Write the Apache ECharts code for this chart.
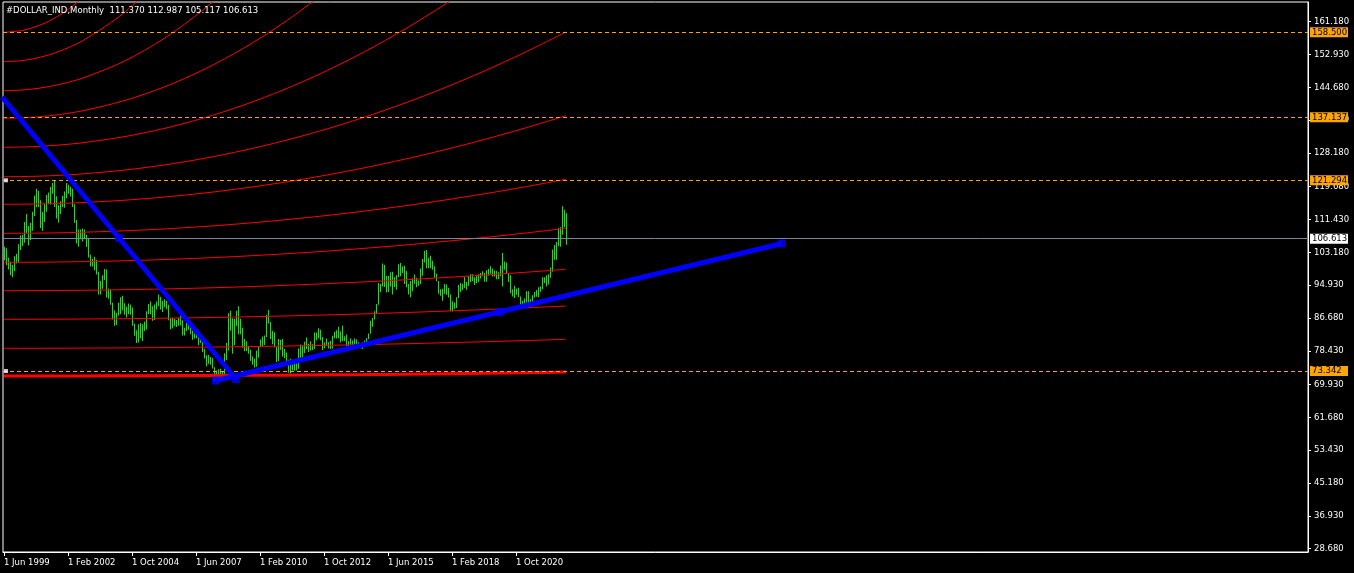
<!DOCTYPE html>
<html><head><meta charset="utf-8">
<script src="https://cdn.jsdelivr.net/npm/echarts@6.0.0/dist/echarts.min.js"></script>
<style>html,body{margin:0;padding:0;background:#000;overflow:hidden}#chart{width:1354px;height:573px}</style>
</head><body><div id="chart"></div>
<script>
// ---------- data ----------
const symbolName = '#DOLLAR_IND,Monthly';
const firstBar = 'Jun 1999';
const lastOpen = 111.370;
const lastClose = 106.613;

const highs = [
  104.6,104.2,101.8,100.8,100.0,102.2,102.8,
  105.2,107.4,107.6,110.8,112.8,109.8,110.6,113.4,117.5,119.2,118.6,116.3,
  113.4,115.4,117.6,118.2,119.6,120.6,121.1,117.3,115.0,116.0,117.4,118.5,
  120.6,120.2,119.7,119.2,115.3,111.3,108.9,108.9,109.2,108.9,107.6,106.8,
  102.6,101.6,102.1,101.3,98.3,96.0,97.4,99.0,98.9,94.1,93.9,90.5,
  88.6,88.0,90.5,91.9,92.3,90.4,89.5,90.3,90.0,89.3,85.2,83.6,
  85.1,85.4,85.1,85.8,88.4,90.2,90.8,89.6,90.1,90.8,92.6,92.0,
  91.0,91.4,91.0,90.0,86.6,86.8,86.5,86.2,86.8,87.5,86.1,84.2,
  85.4,85.2,84.4,83.4,82.8,83.2,82.0,82.4,81.2,78.9,77.3,77.4,
  76.9,76.7,74.3,73.5,73.8,73.9,73.1,77.8,80.4,87.9,88.5,86.6,
  86.5,88.5,89.6,86.5,84.2,81.4,80.8,79.7,78.7,77.0,76.4,78.5,
  79.5,81.3,82.0,82.3,87.5,88.7,85.7,83.5,83.1,79.5,81.4,81.2,
  81.4,78.9,78.0,76.2,76.4,76.0,75.8,75.3,79.0,80.0,79.8,80.7,
  81.8,80.2,80.8,80.1,83.0,83.0,84.1,83.7,81.9,80.5,81.5,80.6,
  80.9,82.2,83.2,83.6,84.5,83.3,84.8,82.1,82.5,80.8,81.5,81.0,
  81.5,81.3,80.6,80.4,80.6,81.0,81.6,82.8,86.0,86.7,88.4,90.2,
  95.5,95.2,100.4,100.0,97.3,97.3,98.2,98.3,96.9,97.4,100.2,100.5,
  99.6,99.8,98.5,95.2,96.0,96.7,97.6,96.8,96.1,99.1,101.5,103.6,
  103.8,101.8,102.3,101.1,99.7,97.8,96.0,93.9,94.0,95.2,95.1,94.2,
  92.6,90.9,90.6,91.9,95.0,95.5,95.3,96.9,95.7,97.2,97.7,97.7,
  96.9,97.4,97.7,98.0,98.4,98.0,98.7,99.0,99.7,99.1,98.6,98.5,
  98.2,99.9,103.0,100.9,100.6,97.9,97.4,93.9,94.8,94.1,94.3,92.1,
  91.0,91.6,93.4,93.4,91.4,92.4,93.2,93.7,94.4,94.6,96.9,96.9,
  97.4,97.7,99.4,103.9,105.0,105.8,109.3,109.5,114.8,113.9,112.987
];
const lows = [
  101.2,100.0,98.9,97.4,96.9,98.4,100.4,
  100.6,103.8,104.8,105.6,108.0,104.9,106.2,108.6,112.3,114.5,114.6,109.3,
  108.6,110.8,113.4,115.4,115.2,117.9,114.6,111.7,110.6,112.8,114.6,114.4,
  116.8,117.9,117.2,114.6,110.6,105.4,104.6,106.5,105.9,106.6,104.5,101.9,
  99.6,99.6,98.7,97.6,92.6,92.6,94.0,96.2,91.8,91.5,90.0,86.3,
  84.7,84.9,87.3,87.6,88.6,87.5,86.8,87.6,87.5,84.7,82.2,80.4,
  80.5,81.6,80.9,83.4,83.8,87.7,87.6,86.0,86.2,88.8,89.7,88.8,
  88.2,89.4,88.9,86.1,83.8,84.1,84.6,84.4,84.7,84.8,82.3,82.3,
  83.4,83.7,82.6,81.2,81.5,81.6,79.8,80.4,78.1,76.5,74.5,75.2,
  74.9,74.0,70.7,71.3,71.9,72.1,71.3,72.3,76.1,78.5,83.5,77.7,
  79.8,84.6,82.6,82.6,79.2,78.3,78.4,77.7,75.9,74.9,74.2,74.4,
  76.7,79.3,79.4,79.9,81.9,85.3,81.4,80.1,79.3,75.6,75.8,78.7,
  77.0,76.6,75.3,72.9,72.7,73.5,73.4,73.5,73.9,75.9,75.9,77.9,
  78.9,78.1,78.5,78.6,78.9,81.1,81.6,81.1,78.6,79.1,79.7,79.0,
  78.9,79.0,81.6,81.5,81.6,80.5,80.9,80.9,79.6,79.0,80.0,79.7,
  79.9,79.9,79.2,79.1,78.9,80.0,79.7,81.4,82.7,84.5,86.3,87.6,
  90.0,93.2,94.6,94.5,93.1,93.2,94.6,92.6,94.5,93.8,97.0,97.2,
  97.9,95.2,94.4,92.6,91.9,93.4,95.3,94.4,94.8,95.2,97.3,100.6,
  99.2,99.2,99.2,98.8,96.8,95.9,92.8,92.3,91.0,92.8,92.5,91.8,
  88.4,88.3,89.0,89.2,91.7,93.2,93.7,94.2,93.8,94.8,95.7,95.9,
  95.0,95.4,95.7,96.6,97.2,95.8,95.8,97.3,97.8,97.1,97.1,96.4,
  96.4,97.2,94.6,98.8,97.9,95.7,92.9,92.1,91.7,92.5,91.9,89.7,
  89.2,89.7,90.6,90.4,89.5,89.5,91.8,92.0,91.9,93.3,93.9,95.5,
  94.6,95.1,96.8,98.3,101.3,101.3,104.7,104.6,107.6,109.5,105.117
];

// indicator curves: values read at these bar indices (months since first bar)
const levelMonths = [0,10,20,30,40,60,80,100,120,140,160,180,200,220,240,260,281];
const level0  = [72.10,72.10,72.10,72.11,72.12,72.14,72.17,72.21,72.26,72.31,72.38,72.45,72.55,72.66,72.78,72.92,73.10];
const level1  = [79.06,79.06,79.07,79.09,79.11,79.16,79.24,79.35,79.47,79.62,79.79,79.99,80.20,80.45,80.71,80.99,81.32];
const level2  = [86.35,86.35,86.37,86.39,86.42,86.50,86.62,86.77,86.96,87.18,87.43,87.72,88.04,88.40,88.79,89.21,89.69];
const level3  = [93.54,93.55,93.57,93.60,93.65,93.79,93.98,94.22,94.52,94.88,95.28,95.75,96.27,96.84,97.46,98.15,98.92];
const level4  = [100.68,100.69,100.72,100.78,100.85,101.07,101.37,101.76,102.24,102.80,103.45,104.19,105.01,105.92,106.92,108.00,109.23];
const level5  = [107.97,107.99,108.04,108.12,108.25,108.59,109.07,109.69,110.45,111.35,112.38,113.55,114.86,116.31,117.89,119.61,121.57];
const level6  = [115.27,115.30,115.38,115.52,115.72,116.29,117.08,118.09,119.34,120.81,122.50,124.42,126.57,128.94,131.54,134.36,137.57];
const level7  = [122.20,122.25,122.38,122.61,122.94,123.86,125.15,126.81,128.84,131.24,134.00,137.14,140.64,144.51,148.75,153.36,158.60];
const level8  = [129.60,129.67,129.90,130.27,130.78,132.26,134.33,136.99,140.25,144.10,148.53,153.56,159.18,165.40,172.20,null,null];
const level9  = [136.89,137.01,137.38,138.00,138.86,141.31,144.75,149.17,154.58,160.97,168.34,null,null,null,null,null,null];
const level10 = [143.83,144.04,144.65,145.68,147.11,151.22,156.96,164.35,173.37,null,null,null,null,null,null,null,null];
const level11 = [151.12,151.46,152.49,154.20,156.59,163.43,173.00,null,null,null,null,null,null,null,null,null,null];
const level12 = [158.51,159.07,160.74,163.53,167.43,null,null,null,null,null,null,null,null,null,null,null,null];
const levels = [level0,level1,level2,level3,level4,level5,level6,level7,level8,level9,level10,level11,level12];

// horizontal price levels (dashed) and their markers
const priceLevels = [158.5, 137.137, 121.294, 73.342];
const markedLevels = [121.294, 73.342];

// trend lines [barIndex, price]
const trendA = [[-1, 142.25], [116, 71.34]];
const trendB = [[106, 70.96], [389, 105.41]];

// axis labels
const xTickLabels = ['1 Jun 1999','1 Feb 2002','1 Oct 2004','1 Jun 2007','1 Feb 2010','1 Oct 2012','1 Jun 2015','1 Feb 2018','1 Oct 2020'];
const yTickLabels = [28.68,36.93,45.18,53.43,61.68,69.93,78.43,86.68,94.93,103.18,111.43,119.68,128.18,136.43,144.68,152.93,161.18];

// ---------- build ----------
const MONTHS = ['Jan','Feb','Mar','Apr','May','Jun','Jul','Aug','Sep','Oct','Nov','Dec'];
const [fm, fy] = firstBar.split(' ');
function barIndex(label) {
  const p = label.split(' ');
  return (Number(p[2]) - Number(fy)) * 12 + MONTHS.indexOf(p[1]) - MONTHS.indexOf(fm);
}
const xTickIdx = xTickLabels.map(barIndex);
const xLabelMap = {};
xTickLabels.forEach((l, i) => { xLabelMap[xTickIdx[i]] = l; });

const FONT = 'DejaVu Sans';
const FS = 8.5;
const barData = highs.map((h, i) => [i, h, lows[i]]);
const lastIdx = highs.length - 1;
const titleText = symbolName + '  ' + [lastOpen, highs[lastIdx], lows[lastIdx], lastClose].map(v => v.toFixed(3)).join(' ');

const levelSeries = levels.map((arr, k) => ({
  type: 'line',
  data: levelMonths.map((m, i) => [m, arr[i]]).filter(p => p[1] !== null),
  smooth: 0.3,
  symbol: 'none',
  silent: true,
  clip: true,
  lineStyle: { color: '#ff0000', width: k === 0 ? 3 : 1 },
  z: 3
}));

function mid(t) { return [(t[0][0] + t[1][0]) / 2, (t[0][1] + t[1][1]) / 2]; }

function boxLabel(text, bg) {
  return {
    show: true, position: 'end', formatter: text, distance: 2,
    color: '#000', backgroundColor: bg, fontFamily: FONT, fontSize: FS,
    lineHeight: 10, padding: [0, 2, 0, 2], width: 34, align: 'left'
  };
}

const markData = priceLevels.map(v => ({
  yAxis: v,
  lineStyle: { color: '#ffa500', type: [4, 3], width: 1 },
  label: boxLabel(v.toFixed(3), '#ffa500')
}));
markData.push({
  yAxis: lastClose,
  lineStyle: { color: '#778899', type: 'solid', width: 1 },
  label: boxLabel(lastClose.toFixed(3), '#ffffff')
});

const chart = echarts.init(document.getElementById('chart'), null, { renderer: 'canvas' });
chart.setOption({
  animation: false,
  backgroundColor: '#000',
  title: {
    text: titleText, left: 6, top: 5, padding: 0,
    textStyle: { color: '#fff', fontSize: FS, fontWeight: 'normal', fontFamily: FONT, lineHeight: 12 }
  },
  grid: {
    left: 3, right: 46, top: 2, bottom: 21,
    show: true, borderColor: '#fff', borderWidth: 1,
    outerBoundsMode: 'none', containLabel: false
  },
  xAxis: {
    type: 'value', min: -0.5, max: 652,
    splitLine: { show: false },
    axisLine: { show: true, onZero: false, lineStyle: { color: '#fff', width: 1 } },
    axisTick: { show: true, length: 4, customValues: xTickIdx, lineStyle: { color: '#fff' } },
    axisLabel: {
      customValues: xTickIdx, formatter: v => xLabelMap[v] || '',
      color: '#fff', fontFamily: FONT, fontSize: FS, align: 'left', margin: 6
    }
  },
  yAxis: {
    type: 'value', position: 'right', min: 27.84, max: 166.13, scale: true,
    splitLine: { show: false },
    axisLine: { show: true, onZero: false, lineStyle: { color: '#fff', width: 1 } },
    axisTick: { show: true, length: 3, customValues: yTickLabels, lineStyle: { color: '#fff' } },
    axisLabel: {
      customValues: yTickLabels, formatter: v => v.toFixed(3),
      color: '#fff', fontFamily: FONT, fontSize: FS, margin: 6
    }
  },
  series: [
    {
      type: 'custom',
      data: barData,
      encode: { x: 0, y: [1, 2] },
      silent: true,
      z: 2,
      renderItem: function (params, api) {
        const m = api.value(0);
        const top = api.coord([m, api.value(1)]);
        const bot = api.coord([m, api.value(2)]);
        return {
          type: 'rect',
          shape: { x: top[0], y: top[1], width: 1, height: Math.max(1, bot[1] - top[1]) },
          style: { fill: '#33cc33' }
        };
      }
    },
    ...levelSeries,
    {
      type: 'line',
      data: [[0, lastClose]],
      symbol: 'none', showSymbol: false, silent: true, clip: false,
      lineStyle: { opacity: 0 },
      z: 1,
      markLine: { silent: true, symbol: ['none', 'none'], animation: false, precision: 3, data: markData }
    },
    {
      type: 'scatter',
      data: markedLevels.map(v => [1, v]),
      symbol: 'rect', symbolSize: 4, silent: true,
      itemStyle: { color: '#ffffff' }, z: 6
    },
    {
      type: 'line', data: trendA, symbol: 'none', silent: true, clip: true,
      lineStyle: { color: '#0000ff', width: 5 }, z: 7
    },
    {
      type: 'line', data: trendB, symbol: 'none', silent: true, clip: true,
      lineStyle: { color: '#0000ff', width: 5 }, z: 7
    },
    {
      type: 'scatter',
      data: [mid(trendA), trendA[1], trendB[0], mid(trendB), trendB[1]],
      symbol: 'rect', symbolSize: 8, silent: true,
      itemStyle: { color: '#0000ff' }, z: 8
    }
  ]
});
</script></body></html>
